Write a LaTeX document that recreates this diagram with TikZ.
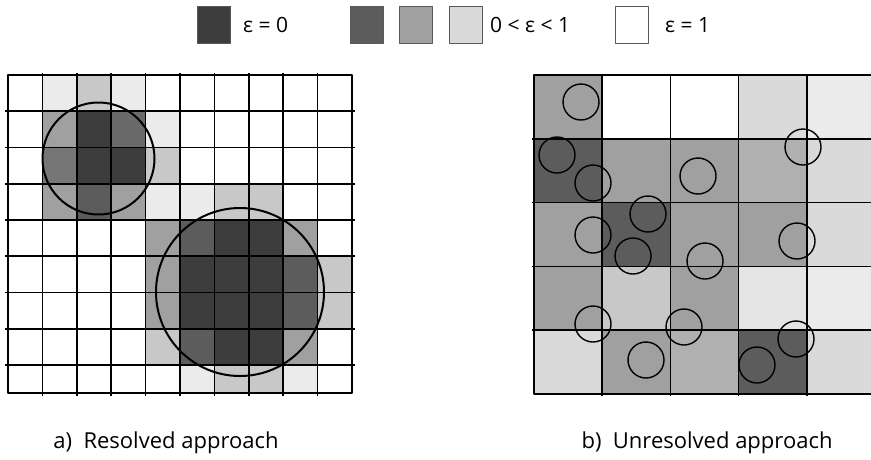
\documentclass[tikz,border=0pt]{standalone}
\usepackage{fontspec}
\setmainfont{Open Sans}

% Grautoene
\definecolor{cw}{HTML}{FFFFFF}
\definecolor{cv}{HTML}{EBEBEB}
\definecolor{ce}{HTML}{E4E4E4}
\definecolor{ca}{HTML}{DADADA}
\definecolor{cl}{HTML}{C8C8C8}
\definecolor{cb}{HTML}{B0B0B0}
\definecolor{cm}{HTML}{A0A0A0}
\definecolor{co}{HTML}{767676}
\definecolor{cn}{HTML}{6A6A6A}
\definecolor{ck}{HTML}{5C5C5C}
\definecolor{cd}{HTML}{3D3D3D}

\tikzset{
  legbox/.style={draw=black!65, line width=0.8pt, minimum width=33pt, minimum height=37pt, inner sep=0pt},
  legtext/.style={anchor=west, inner sep=0pt, font=\fontsize{21}{25}\selectfont},
  caption/.style={inner sep=0pt, font=\fontsize{22}{26}\selectfont},
  gitter/.style={line width=1.6pt},
  rand/.style={line width=2.4pt},
  partikel/.style={line width=1.4pt}
}

\begin{document}
\begin{tikzpicture}[x=1pt, y=-1pt, line join=round]

        \clip (0,0) rectangle (871,459);

        % Legende
        \node[legbox, fill=cd] (box0) at (214,24.5) {};
        \node[legtext] (leg0) at (243,25) {ε = 0};
        \node[legbox, fill=ck] (box1) at (367,24.5) {};
        \node[legbox, fill=cm] (box2) at (416,24.5) {};
        \node[legbox, fill=ca] (box3) at (465.5,24.5) {};
        \node[legtext] (leg1) at (490,25) {0 < ε < 1};
        \node[legbox, fill=cw] (box4) at (632,24.5) {};
        \node[legtext] (leg2) at (665,25) {ε = 1};

        % Zellen links (aufgeloest)
        \begin{scope}
          \clip (8,75) rectangle (352,393);
          \foreach \zeile [count=\j from 0] in {
              {w,v,l,v,w,w,w,w,w,w},
              {w,m,d,n,v,w,w,w,w,w},
              {w,o,d,d,l,w,w,w,w,w},
              {w,m,k,m,v,v,l,l,w,w},
              {w,w,w,w,m,k,d,d,m,w},
              {w,w,w,w,m,d,d,d,k,l},
              {w,w,w,w,m,d,d,d,k,l},
              {w,w,w,w,l,k,d,d,m,w},
              {w,w,w,w,w,v,l,l,v,w}}
            \foreach \c [count=\i from 0] in \zeile
              \fill[fill=c\c] (8+34.4*\i,75+36.25*\j) rectangle ++(34.4,36.25);
        \end{scope}

        % Gitter links
        \foreach \i in {1,...,9}
        \draw[gitter] (8+34.4*\i,73) -- (8+34.4*\i,396);
        \foreach \j in {1,...,8}
        \draw[gitter] (5,75+36.25*\j) -- (355,75+36.25*\j);
        \draw[rand] (8,75) rectangle (352,393);

        % Partikel links
        \draw[line width=2pt] (98.5,158.5) circle[radius=56];
        \draw[line width=2pt] (240,292) circle[radius=84];

        % Zellen rechts (nicht aufgeloest)
        \begin{scope}
          \clip (534,75) rectangle (875,394);
          \foreach \zeile [count=\j from 0] in {
              {m,w,w,a,v},
              {k,m,m,b,a},
              {m,k,m,m,a},
              {m,l,m,e,v},
              {a,m,b,k,a}}
            \foreach \c [count=\i from 0] in \zeile
              \fill[fill=c\c] (534+68.2*\i,75+63.8*\j) rectangle ++(68.2,63.8);
        \end{scope}

        % Gitter rechts
        \foreach \i in {1,...,4}
        \draw[gitter] (534+68.2*\i,75) -- (534+68.2*\i,396);
        \foreach \j in {1,...,4}
        \draw[gitter] (532,75+63.8*\j) -- (875,75+63.8*\j);
        \draw[rand] (534,75) rectangle (875,394);

        % Partikel rechts
        \foreach \px/\py in {581/102, 557/155, 593/183, 698/176, 803/147,
                             648/214, 593/235, 633/256, 705/261, 797/241,
                             593/324, 684/327, 646/360, 757/365, 796/339}
        \draw[partikel] (\px,\py) circle[radius=18];

        % Beschriftungen
        \node[caption] (capA) at (166,443) {a)\ \ Resolved approach};
        \node[caption] (capB) at (707,443) {b)\ \ Unresolved approach};

    \end{tikzpicture}
\end{document}
